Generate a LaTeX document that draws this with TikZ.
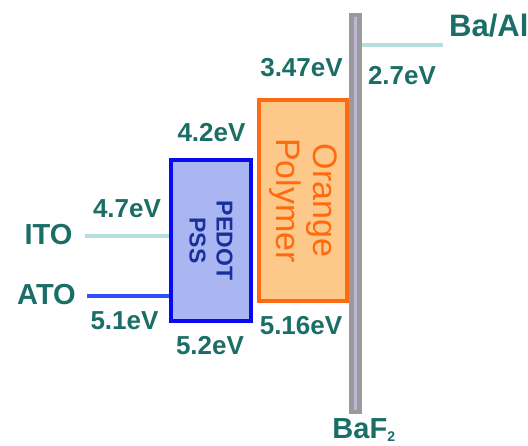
\documentclass[tikz,border=0pt]{standalone}
\usepackage{fontspec}
\setmainfont{Liberation Sans}
\usetikzlibrary{positioning,calc}

\definecolor{labelteal}{HTML}{1B6E66}
\definecolor{levelcyan}{HTML}{B5DEDE}
\definecolor{atoblue}{HTML}{3050FF}
\definecolor{pedotfill}{HTML}{AAB6F2}
\definecolor{pedotline}{HTML}{0A0AF0}
\definecolor{pedottext}{HTML}{1A2F9C}
\definecolor{polyfill}{HTML}{FDC98A}
\definecolor{polyline}{HTML}{FF6A10}
\definecolor{bargray}{HTML}{9A9A9E}
\definecolor{barinner}{HTML}{BEB6D2}

\begin{document}
\begin{tikzpicture}[
  x=1pt, y=-1pt,
  evlabel/.style={text=labelteal, font=\fontsize{26}{30}\selectfont\bfseries, inner sep=0pt},
  electrode/.style={text=labelteal, font=\fontsize{29}{33}\selectfont\bfseries, inner sep=0pt},
  layer/.style={draw, line width=4pt, align=center, rotate=-90, inner sep=0pt},
  level/.style={line width=4pt}
]
\useasboundingbox (0,0) rectangle (528,445);

% electrodes
\node[electrode] (ito) at (48.5,235) {ITO};
\node[electrode] (ato) at (46.5,295) {ATO};
\node[electrode, anchor=west, font=\fontsize{31}{35}\selectfont\bfseries] (baal) at (449,26) {Ba/Al};

% layers
\node[layer, fill=polyfill, draw=polyline, text=polyline, minimum width=201pt, minimum height=88pt,
  font=\fontsize{34}{37}\selectfont] (poly) at (303,200.5) {Orange\\Polymer};
\node[layer, fill=pedotfill, draw=pedotline, text=pedottext, minimum width=161pt, minimum height=80pt,
  font=\fontsize{23}{27}\selectfont\bfseries] (pedot) at (211,240.5) {PEDOT\\PSS};

% substrate bar
\node[draw=bargray, fill=bargray, line width=1pt, minimum width=12pt, minimum height=400pt, inner sep=0pt] (baf) at (355.5,213) {};
\draw[barinner, line width=3pt] ($(baf.north)+(0,4)$) -- ($(baf.south)+(0,-4)$);
\node[electrode] (baflabel) at (364,430) {BaF\textsubscript{\fontsize{14}{14}\selectfont 2}};

\coordinate (itoL) at (85,235.5);
\coordinate (atoL) at (87,296);
\coordinate (baalR) at (443,45);
\draw[level, levelcyan] (itoL) -- (itoL -| pedot.south);
\draw[level, atoblue] (atoL) -- (atoL -| pedot.south);
\draw[level, levelcyan] (baf.east |- baalR) -- (baalR);

% energies
\node[evlabel] (ev47) at (127,208.5) {4.7eV};
\node[evlabel] (ev51) at (124.5,321) {5.1eV};
\node[evlabel] (ev42) at (211.5,133) {4.2eV};
\node[evlabel] (ev52) at (210,346) {5.2eV};
\node[evlabel] (ev347) at (301.5,68) {3.47eV};
\node[evlabel] (ev516) at (301,326) {5.16eV};
\node[evlabel] (ev27) at (402,76) {2.7eV};

\end{tikzpicture}
\end{document}
